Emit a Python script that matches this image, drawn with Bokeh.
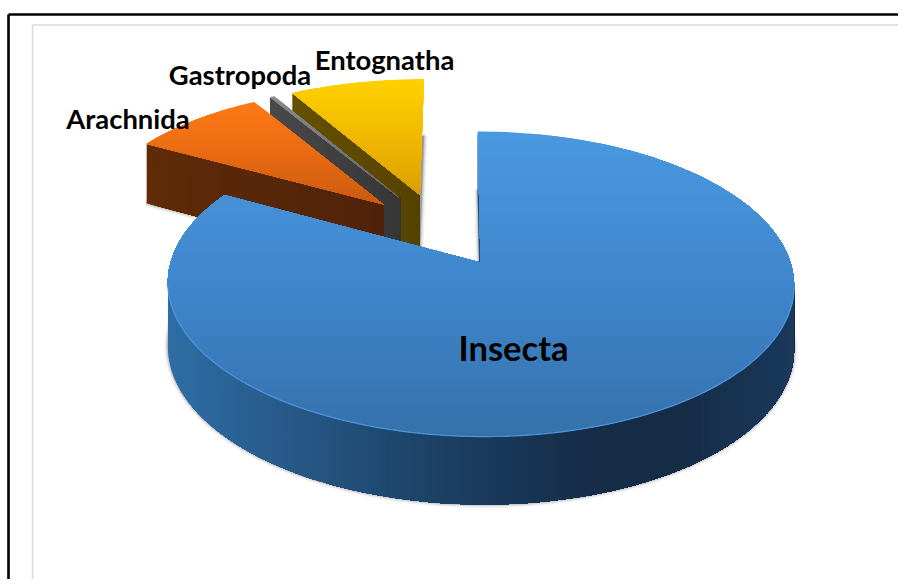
import numpy as np
from bokeh.plotting import figure
from bokeh.embed import file_html
from bokeh.resources import INLINE
from bokeh.core.properties import value

# ---- data (share of records, percent) ----
categories = ["Insecta", "Arachnida", "Gastropoda", "Entognatha"]
shares = [83.0, 8.3, 0.3, 8.4]

# ---- style ----
TOP_STOPS = {"Insecta": ["#4A98E0", "#3F86CC", "#3571AB"],
             "Arachnida": ["#FF7A14", "#E86A12", "#C85A10"],
             "Gastropoda": ["#8A8A8A", "#777777", "#666666"],
             "Entognatha": ["#FFD000", "#F0B800", "#D99E00"]}
WALL_STOPS = {"Insecta": ["#1F4E79", "#1F4E79"],
              "Arachnida": ["#5F2B08", "#50220A"],
              "Gastropoda": ["#4A4A4A", "#363636"],
              "Entognatha": ["#665000", "#554200"]}
RIM_STOPS = ["#2E6DA4", "#285C8C", "#1F4A72", "#1A3A5C", "#162D48", "#162D48", "#1A3A5C"]
DRAW_ORDER = ["Entognatha", "Gastropoda", "Arachnida", "Insecta"]
LABEL_POS = {"Insecta": (513, 347, 34.5), "Arachnida": (127.5, 118, 27.4),
             "Gastropoda": (239.5, 74, 27.4), "Entognatha": (384, 59, 27.4)}

# ---- camera of the tilted disc ----
CX, CY, R, S, K, SHEAR, D = 480.0, 262.0, 310.0, 149.5, 0.141, -3.4, 63.0
EXPLODE = 0.265


def project(u, v):
    w = 1 + K * v
    return CX + (R * u + SHEAR * v) / w, CY - S * v / w, D / np.sqrt(w)


def hex2rgb(h):
    return np.array([int(h[i:i + 2], 16) for i in (1, 3, 5)], float)


def ramp(stops, t):
    t = min(max(t, 0.0), 1.0) * (len(stops) - 1)
    i = min(int(t), len(stops) - 2)
    c = hex2rgb(stops[i]) * (1 - (t - i)) + hex2rgb(stops[i + 1]) * (t - i)
    return "#%02x%02x%02x" % tuple(int(round(a)) for a in c)


def clip(px, py, axis, limit):
    """Keep the part of a polygon where its x (axis 0) or y (axis 1) is >= limit."""
    pts = list(zip(px, py))
    out = []
    for i in range(len(pts)):
        a, b = pts[i - 1], pts[i]
        ina, inb = a[axis] >= limit, b[axis] >= limit
        if ina != inb:
            f = (limit - a[axis]) / (b[axis] - a[axis])
            out.append((a[0] + f * (b[0] - a[0]), a[1] + f * (b[1] - a[1])))
        if inb:
            out.append(b)
    return [q[0] for q in out], [q[1] for q in out]


p = figure(width=898, height=579, x_range=(0, 898), y_range=(579, 0),
           toolbar_location=None, output_backend="svg", min_border=0,
           outline_line_color=None, background_fill_color="white")
p.axis.visible = False
p.grid.visible = False

# page frame
p.segment([8, 8], [14, 14], [898, 8], [14, 579], line_color="#000000", line_width=2.6)
p.segment([32, 32], [24.5, 24.5], [898, 32], [24.5, 579], line_color="#D9D9D9", line_width=1.6)

edges = np.cumsum([0] + shares) / sum(shares) * 2 * np.pi
bis0 = (edges[0] + edges[1]) / 2


def gradient(px, py, stops, axis, step):
    arr = py if axis == 1 else px
    lo, hi = min(arr), max(arr)
    xs, ys, cols = [], [], []
    for lim in np.arange(lo, hi, step):
        qx, qy = clip(px, py, axis, lim)
        if len(qx) > 2:
            xs.append(qx); ys.append(qy)
            cols.append(ramp(stops, (lim - lo) / max(hi - lo, 1e-6)))
    p.patches(xs, ys, fill_color=cols, line_color=None)


for name in DRAW_ORDER:
    i = categories.index(name)
    a0, a1 = edges[i], edges[i + 1]
    mid = (a0 + a1) / 2
    ou = EXPLODE * (np.sin(mid) - np.sin(bis0))
    ov = EXPLODE * (np.cos(mid) - np.cos(bis0))
    th = np.linspace(a0, a1, max(4, int((a1 - a0) / (2 * np.pi) * 240)))
    uu, vv = ou + np.sin(th), ov + np.cos(th)
    ax, ay, ad = project(uu, vv)
    cx, cy, cd = project(np.array([ou]), np.array([ov]))
    topx = [cx[0]] + list(ax)
    topy = [cy[0]] + list(ay)
    deps = [cd[0]] + list(ad)
    botx = topx
    boty = [y + d for y, d in zip(topy, deps)]

    # soft shadow round the bottom face
    for lw, al in ((7, 0.10), (4, 0.18), (2, 0.25)):
        p.patch(botx, boty, fill_color="#808080", fill_alpha=0.3,
                line_color="#808080", line_width=lw, line_alpha=al)

    # wall along the start radius
    wx = [cx[0], ax[0], ax[0], cx[0]]
    wy = [cy[0], ay[0], ay[0] + ad[0], cy[0] + cd[0]]
    gradient(wx, wy, WALL_STOPS[name], 0, 2.0)

    # front rim
    front = np.cos(th) < -K
    if front.any():
        fx, fy, fd = ax[front], ay[front], ad[front]
        rx = list(fx) + list(fx[::-1])
        ry = list(fy) + list((fy + fd)[::-1])
        gradient(rx, ry, RIM_STOPS, 0, 3.0)

    # top face
    gradient(topx, topy, TOP_STOPS[name], 1, 3.0)

    if front.any():
        p.line(list(fx), list(fy), line_color="#4C93DA", line_width=1.3)

for name in categories:
    lx, ly, size = LABEL_POS[name]
    p.text([lx], [ly], text=[name], text_font=value("Lato"), text_font_style="bold",
           text_font_size=f"{size}px", text_color="#000000",
           text_align="center", text_baseline="middle")

open("out.html", "w").write(file_html(p, INLINE))
